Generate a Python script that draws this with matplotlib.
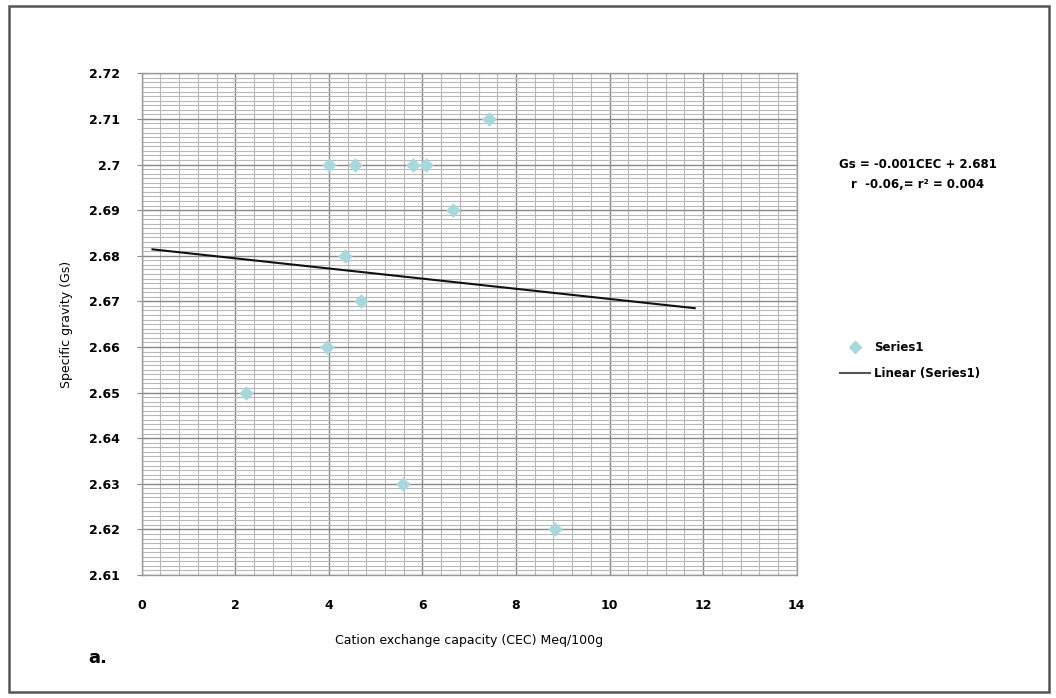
import numpy as np
import matplotlib
matplotlib.use("Agg")
import matplotlib.pyplot as plt
from matplotlib.patches import Rectangle
from matplotlib.lines import Line2D

# Data
cec = [4.00, 4.56, 5.80, 6.07, 6.66, 4.34, 4.69, 7.43, 3.95, 2.23, 5.59, 8.83]
gs = [2.70, 2.70, 2.70, 2.70, 2.69, 2.68, 2.67, 2.71, 2.66, 2.65, 2.63, 2.62]
trend_x = [0.23, 11.82]
trend_y = [2.6814, 2.6685]
x_ticks = [0, 2, 4, 6, 8, 10, 12, 14]
y_ticks = [2.61, 2.62, 2.63, 2.64, 2.65, 2.66, 2.67, 2.68, 2.69, 2.70, 2.71, 2.72]
y_tick_labels = ["2.61", "2.62", "2.63", "2.64", "2.65", "2.66", "2.67",
                 "2.68", "2.69", "2.7", "2.71", "2.72"]

fig = plt.figure(figsize=(10.56, 6.98), dpi=100)

# outer frame
fig.patches.append(Rectangle((9 / 1056, 6 / 698), 1040 / 1056, 686 / 698,
                             transform=fig.transFigure, fill=False,
                             edgecolor="#555555", linewidth=1.8))

ax = fig.add_axes([0.1342, 0.1762, 0.6203, 0.7188])

ax.scatter(cec, gs, marker="D", s=55, color="#a9d8dc", zorder=3,
           linewidths=0)
ax.plot(trend_x, trend_y, color="#111111", linewidth=1.5, zorder=4)

ax.set_xlim(0, 14)
ax.set_ylim(2.61, 2.72)
ax.set_xticks(x_ticks)
ax.set_yticks(y_ticks)
ax.set_yticklabels(y_tick_labels)
ax.set_xticks(np.arange(0, 14.01, 0.4), minor=True)
ax.set_yticks(np.arange(2.61, 2.7201, 0.001), minor=True)

ax.grid(which="major", color="#888888", linewidth=1.0)
ax.grid(which="minor", color="#b8b8b8", linewidth=0.8)
ax.set_axisbelow(True)

for s in ax.spines.values():
    s.set_color("#9a9a9a")
    s.set_linewidth(1.0)

ax.tick_params(axis="y", which="major", length=7, direction="inout",
               color="#8a8a8a", labelsize=9, pad=12)
ax.tick_params(axis="x", which="major", length=0, labelsize=9, pad=17)
ax.tick_params(which="minor", length=0)
for lbl in ax.get_xticklabels() + ax.get_yticklabels():
    lbl.set_fontweight("bold")

ax.set_ylabel("Specific gravity (Gs)", fontsize=9, labelpad=12)
ax.set_xlabel("Cation exchange capacity (CEC) Meq/100g", fontsize=9,
              labelpad=16)

fig.text(0.869, 0.764, "Gs = -0.001CEC + 2.681", ha="center", va="center",
         fontsize=8.5, fontweight="bold")
fig.text(0.869, 0.735, "r  -0.06,= r\u00b2 = 0.004", ha="center", va="center",
         fontsize=8.5, fontweight="bold")

handles = [Line2D([], [], marker="D", linestyle="none", color="#a9d8dc",
                  markersize=6),
           Line2D([], [], color="#555555", linewidth=1.5)]
fig.legend(handles, ["Series1", "Linear (Series1)"], loc="center left",
           bbox_to_anchor=(0.785, 0.483), frameon=False,
           handlelength=2.6, handletextpad=0.3, labelspacing=1.1,
           prop={"weight": "bold", "size": 8.5})

fig.text(0.084, 0.05, "a.", fontsize=13, fontweight="bold")

fig.savefig("out.png", dpi=100)
